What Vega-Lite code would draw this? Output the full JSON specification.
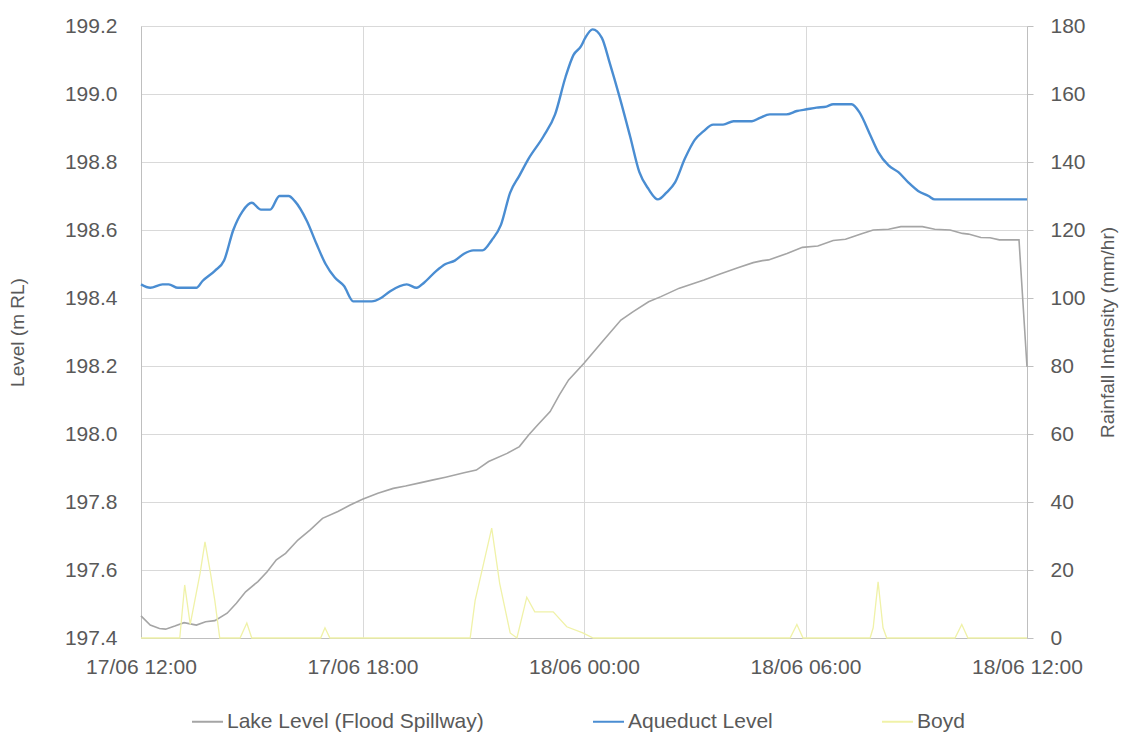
{
  "$schema": "https://vega.github.io/schema/vega-lite/v6.json",
  "width": 886,
  "height": 612,
  "autosize": {"type": "none"},
  "padding": {"left": 141, "top": 26, "right": 102, "bottom": 102},
  "background": "white",
  "config": {
    "view": {"stroke": null},
    "axis": {
      "labelFontSize": 21,
      "titleFontSize": 19,
      "titleFontWeight": "normal",
      "labelColor": "#595959",
      "titleColor": "#595959",
      "domainColor": "#bfbfbf",
      "gridColor": "#d9d9d9",
      "tickColor": "#bfbfbf"
    },
    "legend": {"labelFontSize": 21, "labelColor": "#595959", "labelLimit": 0}
  },
  "layer": [
    {
      "layer": [
        {
          "data": {"values": [
            {"t": "2017-06-17T12:00", "v": 197.465, "s": "Lake Level (Flood Spillway)"},
            {"t": "2017-06-17T12:15", "v": 197.438, "s": "Lake Level (Flood Spillway)"},
            {"t": "2017-06-17T12:30", "v": 197.428, "s": "Lake Level (Flood Spillway)"},
            {"t": "2017-06-17T12:40", "v": 197.426, "s": "Lake Level (Flood Spillway)"},
            {"t": "2017-06-17T12:55", "v": 197.435, "s": "Lake Level (Flood Spillway)"},
            {"t": "2017-06-17T13:10", "v": 197.445, "s": "Lake Level (Flood Spillway)"},
            {"t": "2017-06-17T13:30", "v": 197.438, "s": "Lake Level (Flood Spillway)"},
            {"t": "2017-06-17T13:45", "v": 197.448, "s": "Lake Level (Flood Spillway)"},
            {"t": "2017-06-17T14:00", "v": 197.451, "s": "Lake Level (Flood Spillway)"},
            {"t": "2017-06-17T14:20", "v": 197.473, "s": "Lake Level (Flood Spillway)"},
            {"t": "2017-06-17T14:35", "v": 197.502, "s": "Lake Level (Flood Spillway)"},
            {"t": "2017-06-17T14:50", "v": 197.536, "s": "Lake Level (Flood Spillway)"},
            {"t": "2017-06-17T15:10", "v": 197.566, "s": "Lake Level (Flood Spillway)"},
            {"t": "2017-06-17T15:25", "v": 197.595, "s": "Lake Level (Flood Spillway)"},
            {"t": "2017-06-17T15:40", "v": 197.63, "s": "Lake Level (Flood Spillway)"},
            {"t": "2017-06-17T15:55", "v": 197.649, "s": "Lake Level (Flood Spillway)"},
            {"t": "2017-06-17T16:15", "v": 197.688, "s": "Lake Level (Flood Spillway)"},
            {"t": "2017-06-17T16:35", "v": 197.718, "s": "Lake Level (Flood Spillway)"},
            {"t": "2017-06-17T16:55", "v": 197.752, "s": "Lake Level (Flood Spillway)"},
            {"t": "2017-06-17T17:20", "v": 197.772, "s": "Lake Level (Flood Spillway)"},
            {"t": "2017-06-17T17:40", "v": 197.791, "s": "Lake Level (Flood Spillway)"},
            {"t": "2017-06-17T18:00", "v": 197.808, "s": "Lake Level (Flood Spillway)"},
            {"t": "2017-06-17T18:25", "v": 197.826, "s": "Lake Level (Flood Spillway)"},
            {"t": "2017-06-17T18:50", "v": 197.84, "s": "Lake Level (Flood Spillway)"},
            {"t": "2017-06-17T19:10", "v": 197.847, "s": "Lake Level (Flood Spillway)"},
            {"t": "2017-06-17T19:35", "v": 197.857, "s": "Lake Level (Flood Spillway)"},
            {"t": "2017-06-17T19:55", "v": 197.865, "s": "Lake Level (Flood Spillway)"},
            {"t": "2017-06-17T20:15", "v": 197.873, "s": "Lake Level (Flood Spillway)"},
            {"t": "2017-06-17T20:45", "v": 197.886, "s": "Lake Level (Flood Spillway)"},
            {"t": "2017-06-17T21:05", "v": 197.894, "s": "Lake Level (Flood Spillway)"},
            {"t": "2017-06-17T21:25", "v": 197.919, "s": "Lake Level (Flood Spillway)"},
            {"t": "2017-06-17T21:55", "v": 197.943, "s": "Lake Level (Flood Spillway)"},
            {"t": "2017-06-17T22:15", "v": 197.963, "s": "Lake Level (Flood Spillway)"},
            {"t": "2017-06-17T22:30", "v": 197.997, "s": "Lake Level (Flood Spillway)"},
            {"t": "2017-06-17T22:45", "v": 198.027, "s": "Lake Level (Flood Spillway)"},
            {"t": "2017-06-17T23:05", "v": 198.066, "s": "Lake Level (Flood Spillway)"},
            {"t": "2017-06-17T23:20", "v": 198.115, "s": "Lake Level (Flood Spillway)"},
            {"t": "2017-06-17T23:35", "v": 198.159, "s": "Lake Level (Flood Spillway)"},
            {"t": "2017-06-18T00:00", "v": 198.208, "s": "Lake Level (Flood Spillway)"},
            {"t": "2017-06-18T00:30", "v": 198.272, "s": "Lake Level (Flood Spillway)"},
            {"t": "2017-06-18T01:00", "v": 198.335, "s": "Lake Level (Flood Spillway)"},
            {"t": "2017-06-18T01:20", "v": 198.36, "s": "Lake Level (Flood Spillway)"},
            {"t": "2017-06-18T01:45", "v": 198.389, "s": "Lake Level (Flood Spillway)"},
            {"t": "2017-06-18T02:05", "v": 198.404, "s": "Lake Level (Flood Spillway)"},
            {"t": "2017-06-18T02:35", "v": 198.429, "s": "Lake Level (Flood Spillway)"},
            {"t": "2017-06-18T03:15", "v": 198.453, "s": "Lake Level (Flood Spillway)"},
            {"t": "2017-06-18T03:40", "v": 198.47, "s": "Lake Level (Flood Spillway)"},
            {"t": "2017-06-18T04:10", "v": 198.489, "s": "Lake Level (Flood Spillway)"},
            {"t": "2017-06-18T04:35", "v": 198.504, "s": "Lake Level (Flood Spillway)"},
            {"t": "2017-06-18T04:50", "v": 198.51, "s": "Lake Level (Flood Spillway)"},
            {"t": "2017-06-18T05:00", "v": 198.512, "s": "Lake Level (Flood Spillway)"},
            {"t": "2017-06-18T05:30", "v": 198.531, "s": "Lake Level (Flood Spillway)"},
            {"t": "2017-06-18T05:55", "v": 198.549, "s": "Lake Level (Flood Spillway)"},
            {"t": "2017-06-18T06:20", "v": 198.553, "s": "Lake Level (Flood Spillway)"},
            {"t": "2017-06-18T06:45", "v": 198.569, "s": "Lake Level (Flood Spillway)"},
            {"t": "2017-06-18T07:05", "v": 198.573, "s": "Lake Level (Flood Spillway)"},
            {"t": "2017-06-18T07:30", "v": 198.588, "s": "Lake Level (Flood Spillway)"},
            {"t": "2017-06-18T07:50", "v": 198.6, "s": "Lake Level (Flood Spillway)"},
            {"t": "2017-06-18T08:15", "v": 198.602, "s": "Lake Level (Flood Spillway)"},
            {"t": "2017-06-18T08:35", "v": 198.61, "s": "Lake Level (Flood Spillway)"},
            {"t": "2017-06-18T09:10", "v": 198.61, "s": "Lake Level (Flood Spillway)"},
            {"t": "2017-06-18T09:30", "v": 198.602, "s": "Lake Level (Flood Spillway)"},
            {"t": "2017-06-18T09:55", "v": 198.6, "s": "Lake Level (Flood Spillway)"},
            {"t": "2017-06-18T10:15", "v": 198.59, "s": "Lake Level (Flood Spillway)"},
            {"t": "2017-06-18T10:25", "v": 198.588, "s": "Lake Level (Flood Spillway)"},
            {"t": "2017-06-18T10:45", "v": 198.578, "s": "Lake Level (Flood Spillway)"},
            {"t": "2017-06-18T11:00", "v": 198.577, "s": "Lake Level (Flood Spillway)"},
            {"t": "2017-06-18T11:15", "v": 198.571, "s": "Lake Level (Flood Spillway)"},
            {"t": "2017-06-18T11:47", "v": 198.571, "s": "Lake Level (Flood Spillway)"},
            {"t": "2017-06-18T12:00", "v": 198.198, "s": "Lake Level (Flood Spillway)"}
          ]},
          "mark": {"type": "line", "strokeWidth": 1.6},
          "encoding": {
            "x": {"field": "t", "type": "temporal",
              "scale": {"domain": [{"year": 2017, "month": 6, "date": 17, "hours": 12}, {"year": 2017, "month": 6, "date": 18, "hours": 12}]},
              "axis": {"title": null, "format": "%d/%m %H:%M",
                "values": [{"year": 2017, "month": 6, "date": 17, "hours": 12}, {"year": 2017, "month": 6, "date": 17, "hours": 18}, {"year": 2017, "month": 6, "date": 18, "hours": 0}, {"year": 2017, "month": 6, "date": 18, "hours": 6}, {"year": 2017, "month": 6, "date": 18, "hours": 12}],
                "grid": true, "ticks": false, "labelPadding": 18, "labelFlush": false}},
            "y": {"field": "v", "type": "quantitative",
              "scale": {"domain": [197.4, 199.2], "nice": false, "zero": false},
              "axis": {"title": "Level (m RL)", "values": [197.4, 197.6, 197.8, 198.0, 198.2, 198.4, 198.6, 198.8, 199.0, 199.2], "format": ".1f", "ticks": false, "grid": true, "labelPadding": 24, "titlePadding": 37}},
            "color": {"field": "s", "type": "nominal",
              "scale": {"domain": ["Lake Level (Flood Spillway)", "Aqueduct Level", "Boyd"], "range": ["#a5a5a5", "#4a8dd2", "#f0f2a8"]},
              "legend": {"title": null, "orient": "none", "legendX": 50, "legendY": 679, "direction": "horizontal", "symbolType": "stroke", "symbolSize": 961, "symbolStrokeWidth": 2, "columnPadding": 105, "labelOffset": 3}}
          }
        },
        {
          "data": {"values": [
            {"t": "2017-06-17T12:00", "v": 198.44, "s": "Aqueduct Level"},
            {"t": "2017-06-17T12:15", "v": 198.43, "s": "Aqueduct Level"},
            {"t": "2017-06-17T12:35", "v": 198.44, "s": "Aqueduct Level"},
            {"t": "2017-06-17T12:45", "v": 198.44, "s": "Aqueduct Level"},
            {"t": "2017-06-17T13:00", "v": 198.43, "s": "Aqueduct Level"},
            {"t": "2017-06-17T13:30", "v": 198.43, "s": "Aqueduct Level"},
            {"t": "2017-06-17T13:40", "v": 198.45, "s": "Aqueduct Level"},
            {"t": "2017-06-17T14:00", "v": 198.48, "s": "Aqueduct Level"},
            {"t": "2017-06-17T14:15", "v": 198.51, "s": "Aqueduct Level"},
            {"t": "2017-06-17T14:30", "v": 198.6, "s": "Aqueduct Level"},
            {"t": "2017-06-17T14:45", "v": 198.655, "s": "Aqueduct Level"},
            {"t": "2017-06-17T15:00", "v": 198.68, "s": "Aqueduct Level"},
            {"t": "2017-06-17T15:15", "v": 198.66, "s": "Aqueduct Level"},
            {"t": "2017-06-17T15:30", "v": 198.66, "s": "Aqueduct Level"},
            {"t": "2017-06-17T15:45", "v": 198.7, "s": "Aqueduct Level"},
            {"t": "2017-06-17T16:00", "v": 198.7, "s": "Aqueduct Level"},
            {"t": "2017-06-17T16:10", "v": 198.685, "s": "Aqueduct Level"},
            {"t": "2017-06-17T16:30", "v": 198.625, "s": "Aqueduct Level"},
            {"t": "2017-06-17T16:45", "v": 198.56, "s": "Aqueduct Level"},
            {"t": "2017-06-17T17:00", "v": 198.5, "s": "Aqueduct Level"},
            {"t": "2017-06-17T17:15", "v": 198.46, "s": "Aqueduct Level"},
            {"t": "2017-06-17T17:30", "v": 198.435, "s": "Aqueduct Level"},
            {"t": "2017-06-17T17:45", "v": 198.39, "s": "Aqueduct Level"},
            {"t": "2017-06-17T18:15", "v": 198.39, "s": "Aqueduct Level"},
            {"t": "2017-06-17T18:30", "v": 198.4, "s": "Aqueduct Level"},
            {"t": "2017-06-17T18:45", "v": 198.42, "s": "Aqueduct Level"},
            {"t": "2017-06-17T19:12", "v": 198.44, "s": "Aqueduct Level"},
            {"t": "2017-06-17T19:28", "v": 198.43, "s": "Aqueduct Level"},
            {"t": "2017-06-17T19:40", "v": 198.445, "s": "Aqueduct Level"},
            {"t": "2017-06-17T20:00", "v": 198.48, "s": "Aqueduct Level"},
            {"t": "2017-06-17T20:15", "v": 198.5, "s": "Aqueduct Level"},
            {"t": "2017-06-17T20:30", "v": 198.51, "s": "Aqueduct Level"},
            {"t": "2017-06-17T20:45", "v": 198.53, "s": "Aqueduct Level"},
            {"t": "2017-06-17T21:00", "v": 198.54, "s": "Aqueduct Level"},
            {"t": "2017-06-17T21:15", "v": 198.54, "s": "Aqueduct Level"},
            {"t": "2017-06-17T21:30", "v": 198.57, "s": "Aqueduct Level"},
            {"t": "2017-06-17T21:45", "v": 198.615, "s": "Aqueduct Level"},
            {"t": "2017-06-17T22:00", "v": 198.71, "s": "Aqueduct Level"},
            {"t": "2017-06-17T22:15", "v": 198.76, "s": "Aqueduct Level"},
            {"t": "2017-06-17T22:30", "v": 198.81, "s": "Aqueduct Level"},
            {"t": "2017-06-17T22:54", "v": 198.875, "s": "Aqueduct Level"},
            {"t": "2017-06-17T23:13", "v": 198.94, "s": "Aqueduct Level"},
            {"t": "2017-06-17T23:30", "v": 199.05, "s": "Aqueduct Level"},
            {"t": "2017-06-17T23:43", "v": 199.115, "s": "Aqueduct Level"},
            {"t": "2017-06-17T23:55", "v": 199.14, "s": "Aqueduct Level"},
            {"t": "2017-06-18T00:02", "v": 199.165, "s": "Aqueduct Level"},
            {"t": "2017-06-18T00:14", "v": 199.19, "s": "Aqueduct Level"},
            {"t": "2017-06-18T00:29", "v": 199.165, "s": "Aqueduct Level"},
            {"t": "2017-06-18T00:42", "v": 199.09, "s": "Aqueduct Level"},
            {"t": "2017-06-18T00:58", "v": 198.99, "s": "Aqueduct Level"},
            {"t": "2017-06-18T01:15", "v": 198.875, "s": "Aqueduct Level"},
            {"t": "2017-06-18T01:30", "v": 198.77, "s": "Aqueduct Level"},
            {"t": "2017-06-18T01:45", "v": 198.72, "s": "Aqueduct Level"},
            {"t": "2017-06-18T02:00", "v": 198.69, "s": "Aqueduct Level"},
            {"t": "2017-06-18T02:14", "v": 198.71, "s": "Aqueduct Level"},
            {"t": "2017-06-18T02:28", "v": 198.74, "s": "Aqueduct Level"},
            {"t": "2017-06-18T02:44", "v": 198.81, "s": "Aqueduct Level"},
            {"t": "2017-06-18T03:00", "v": 198.865, "s": "Aqueduct Level"},
            {"t": "2017-06-18T03:14", "v": 198.89, "s": "Aqueduct Level"},
            {"t": "2017-06-18T03:30", "v": 198.91, "s": "Aqueduct Level"},
            {"t": "2017-06-18T03:46", "v": 198.91, "s": "Aqueduct Level"},
            {"t": "2017-06-18T04:03", "v": 198.92, "s": "Aqueduct Level"},
            {"t": "2017-06-18T04:33", "v": 198.92, "s": "Aqueduct Level"},
            {"t": "2017-06-18T04:46", "v": 198.93, "s": "Aqueduct Level"},
            {"t": "2017-06-18T05:02", "v": 198.94, "s": "Aqueduct Level"},
            {"t": "2017-06-18T05:29", "v": 198.94, "s": "Aqueduct Level"},
            {"t": "2017-06-18T05:46", "v": 198.95, "s": "Aqueduct Level"},
            {"t": "2017-06-18T06:02", "v": 198.955, "s": "Aqueduct Level"},
            {"t": "2017-06-18T06:18", "v": 198.96, "s": "Aqueduct Level"},
            {"t": "2017-06-18T06:34", "v": 198.963, "s": "Aqueduct Level"},
            {"t": "2017-06-18T06:45", "v": 198.97, "s": "Aqueduct Level"},
            {"t": "2017-06-18T07:15", "v": 198.97, "s": "Aqueduct Level"},
            {"t": "2017-06-18T07:28", "v": 198.945, "s": "Aqueduct Level"},
            {"t": "2017-06-18T07:45", "v": 198.88, "s": "Aqueduct Level"},
            {"t": "2017-06-18T07:58", "v": 198.83, "s": "Aqueduct Level"},
            {"t": "2017-06-18T08:15", "v": 198.79, "s": "Aqueduct Level"},
            {"t": "2017-06-18T08:31", "v": 198.77, "s": "Aqueduct Level"},
            {"t": "2017-06-18T08:47", "v": 198.74, "s": "Aqueduct Level"},
            {"t": "2017-06-18T09:03", "v": 198.715, "s": "Aqueduct Level"},
            {"t": "2017-06-18T09:20", "v": 198.7, "s": "Aqueduct Level"},
            {"t": "2017-06-18T09:30", "v": 198.69, "s": "Aqueduct Level"},
            {"t": "2017-06-18T12:00", "v": 198.69, "s": "Aqueduct Level"}
          ]},
          "mark": {"type": "line", "strokeWidth": 2.4, "interpolate": "monotone"},
          "encoding": {
            "x": {"field": "t", "type": "temporal"},
            "y": {"field": "v", "type": "quantitative"},
            "color": {"field": "s", "type": "nominal"}
          }
        }
      ]
    },
    {
      "data": {"values": [
        {"t": "2017-06-17T12:00", "v": 0, "s": "Boyd"},
        {"t": "2017-06-17T13:03", "v": 0, "s": "Boyd"},
        {"t": "2017-06-17T13:11", "v": 15.6, "s": "Boyd"},
        {"t": "2017-06-17T13:20", "v": 4, "s": "Boyd"},
        {"t": "2017-06-17T13:36", "v": 19, "s": "Boyd"},
        {"t": "2017-06-17T13:44", "v": 28.3, "s": "Boyd"},
        {"t": "2017-06-17T13:53", "v": 19, "s": "Boyd"},
        {"t": "2017-06-17T14:00", "v": 11, "s": "Boyd"},
        {"t": "2017-06-17T14:08", "v": 0, "s": "Boyd"},
        {"t": "2017-06-17T14:41", "v": 0, "s": "Boyd"},
        {"t": "2017-06-17T14:52", "v": 4.4, "s": "Boyd"},
        {"t": "2017-06-17T15:00", "v": 0, "s": "Boyd"},
        {"t": "2017-06-17T16:52", "v": 0, "s": "Boyd"},
        {"t": "2017-06-17T16:59", "v": 3, "s": "Boyd"},
        {"t": "2017-06-17T17:07", "v": 0, "s": "Boyd"},
        {"t": "2017-06-17T20:55", "v": 0, "s": "Boyd"},
        {"t": "2017-06-17T21:03", "v": 11, "s": "Boyd"},
        {"t": "2017-06-17T21:30", "v": 32.3, "s": "Boyd"},
        {"t": "2017-06-17T21:43", "v": 16, "s": "Boyd"},
        {"t": "2017-06-17T22:00", "v": 1.5, "s": "Boyd"},
        {"t": "2017-06-17T22:11", "v": 0, "s": "Boyd"},
        {"t": "2017-06-17T22:27", "v": 12, "s": "Boyd"},
        {"t": "2017-06-17T22:40", "v": 7.7, "s": "Boyd"},
        {"t": "2017-06-17T23:10", "v": 7.7, "s": "Boyd"},
        {"t": "2017-06-17T23:32", "v": 3.3, "s": "Boyd"},
        {"t": "2017-06-17T23:58", "v": 1.5, "s": "Boyd"},
        {"t": "2017-06-18T00:15", "v": 0, "s": "Boyd"},
        {"t": "2017-06-18T05:35", "v": 0, "s": "Boyd"},
        {"t": "2017-06-18T05:46", "v": 4, "s": "Boyd"},
        {"t": "2017-06-18T05:56", "v": 0, "s": "Boyd"},
        {"t": "2017-06-18T07:45", "v": 0, "s": "Boyd"},
        {"t": "2017-06-18T07:50", "v": 3, "s": "Boyd"},
        {"t": "2017-06-18T07:58", "v": 16.5, "s": "Boyd"},
        {"t": "2017-06-18T08:06", "v": 3, "s": "Boyd"},
        {"t": "2017-06-18T08:12", "v": 0, "s": "Boyd"},
        {"t": "2017-06-18T10:03", "v": 0, "s": "Boyd"},
        {"t": "2017-06-18T10:14", "v": 4, "s": "Boyd"},
        {"t": "2017-06-18T10:24", "v": 0, "s": "Boyd"},
        {"t": "2017-06-18T12:00", "v": 0, "s": "Boyd"}
      ]},
      "mark": {"type": "line", "strokeWidth": 1.3},
      "encoding": {
        "x": {"field": "t", "type": "temporal"},
        "y": {"field": "v", "type": "quantitative",
          "scale": {"domain": [0, 180], "nice": false},
          "axis": {"orient": "right", "title": "Rainfall Intensity (mm/hr)", "values": [0, 20, 40, 60, 80, 100, 120, 140, 160, 180], "grid": false, "ticks": true, "tickSize": 6, "labelPadding": 17, "titleAngle": 270, "titlePadding": 32}},
        "color": {"field": "s", "type": "nominal"}
      }
    }
  ],
  "resolve": {"scale": {"y": "independent"}}
}
